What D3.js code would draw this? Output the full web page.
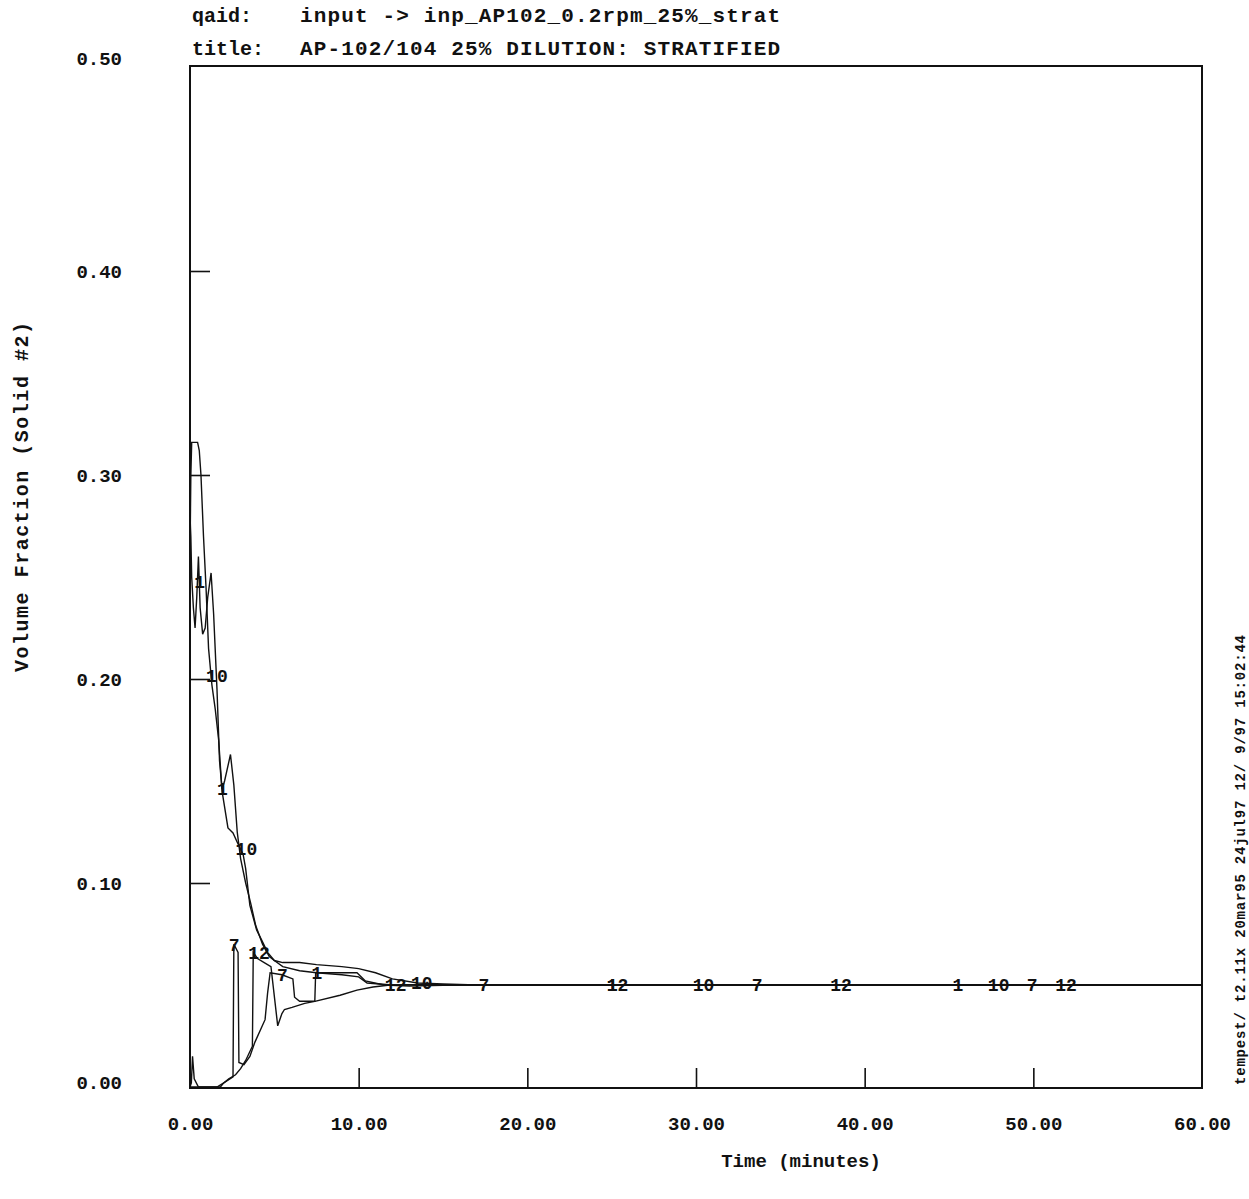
<!DOCTYPE html>
<html>
<head>
<meta charset="utf-8">
<script src="https://cdn.jsdelivr.net/npm/d3@7"></script>
<style>
  body { margin: 0; background: #fff; }
  text { font-family: "Liberation Mono", "DejaVu Sans Mono", monospace; font-weight: bold; fill: #111; }
  .frame { fill: none; stroke: #111; stroke-width: 2; }
  .curve { fill: none; stroke: #111; stroke-width: 1.4; }
  .axis path { display: none; }
  .axis line { stroke: #111; stroke-width: 1.6; }
</style>
</head>
<body>
<div id="chart"></div>
<script>
// --- data (time in minutes, volume fraction) ---
const t1  = [0, 0.05, 0.1, 0.2, 0.3, 0.4, 0.5, 0.6, 0.75, 0.9, 1.05, 1.25, 1.4, 1.6, 1.75, 1.9, 2.05, 2.4, 2.6, 2.8, 3.0, 3.3, 3.6, 3.9, 4.3, 4.7, 5.0, 5.5, 6.5, 7.5, 9.0, 10.0, 10.5, 12, 14, 20, 60];
const v1  = [0.28, 0.27, 0.25, 0.235, 0.225, 0.24, 0.26, 0.235, 0.222, 0.225, 0.24, 0.252, 0.232, 0.195, 0.16, 0.146, 0.15, 0.163, 0.148, 0.125, 0.112, 0.100, 0.090, 0.079, 0.070, 0.064, 0.062, 0.059, 0.057, 0.056, 0.055, 0.054, 0.051, 0.050, 0.0502, 0.05, 0.05];

const t10 = [0, 0.05, 0.1, 0.45, 0.55, 0.65, 0.8, 0.95, 1.1, 1.3, 1.5, 1.7, 1.9, 2.25, 2.55, 2.8, 3.15, 3.3, 3.55, 3.95, 4.25, 4.6, 5.0, 5.5, 6.5, 7.5, 9.0, 10.0, 11.0, 12.0, 13.5, 15, 17, 20, 60];
const v10 = [0.26, 0.30, 0.316, 0.316, 0.312, 0.30, 0.27, 0.245, 0.215, 0.197, 0.185, 0.17, 0.145, 0.127, 0.1245, 0.12, 0.114, 0.107, 0.089, 0.077, 0.072, 0.066, 0.062, 0.061, 0.061, 0.060, 0.059, 0.058, 0.056, 0.053, 0.051, 0.0505, 0.05, 0.05, 0.05];

const t7  = [0, 0.08, 0.15, 0.25, 0.5, 1.6, 2.0, 2.55, 2.6, 2.85, 2.9, 3.2, 3.55, 3.85, 4.45, 4.6, 4.75, 5.45, 6.1, 6.2, 6.5, 7.4, 7.45, 8.5, 9.9, 10.4, 11.5, 13, 15, 17, 20, 60];
const v7  = [0, 0.002, 0.015, 0.004, 0, 0, 0.002, 0.005, 0.070, 0.066, 0.012, 0.011, 0.015, 0.022, 0.033, 0.046, 0.056, 0.055, 0.053, 0.044, 0.042, 0.042, 0.056, 0.056, 0.056, 0.052, 0.050, 0.0495, 0.0498, 0.05, 0.05, 0.05];

const t12 = [0, 1.8, 2.0, 2.3, 2.7, 3.0, 3.3, 3.7, 3.75, 4.0, 4.4, 4.8, 5.2, 5.45, 5.6, 6.05, 6.8, 7.4, 8.9, 9.9, 10.85, 11.85, 13, 15, 20, 60];
const v12 = [0, 0, 0.002, 0.004, 0.006, 0.009, 0.013, 0.020, 0.066, 0.063, 0.061, 0.059, 0.030, 0.036, 0.038, 0.039, 0.041, 0.042, 0.045, 0.0475, 0.049, 0.050, 0.0502, 0.05, 0.05, 0.05];

const seriesNames = ["1", "10", "7", "12"];
const labelTimes = {
  "1":  [0.55, 1.9, 7.5, 25.0, 45.5],
  "10": [1.25, 3.0, 13.4, 30.1, 47.6],
  "7":  [2.6, 5.45, 17.4, 33.6, 49.9],
  "12": [3.75, 11.85, 25.0, 38.25, 51.6]
};

const xTicks = [0, 10, 20, 30, 40, 50, 60];
const yTicks = [0, 0.1, 0.2, 0.3, 0.4, 0.5];

const headerKeys = ["qaid:", "title:"];
const headerVals = ["input -> inp_AP102_0.2rpm_25%_strat", "AP-102/104 25% DILUTION: STRATIFIED"];
const stamp = "tempest/ t2.11x 20mar95 24jul97 12/ 9/97 15:02:44";

// --- layout ---
const width = 1249, height = 1199;
const plot = {left: 190, right: 1202, top: 66, bottom: 1088};

const svg = d3.select("#chart").append("svg")
    .attr("width", width)
    .attr("height", height);

const x = d3.scaleLinear().domain([0, 60]).range([plot.left, plot.right]);
const y = d3.scaleLinear().domain([0, 0.5]).range([plot.bottom - 1, plot.top + 1]);

// frame
svg.append("rect")
    .attr("class", "frame")
    .attr("x", plot.left).attr("y", plot.top)
    .attr("width", plot.right - plot.left)
    .attr("height", plot.bottom - plot.top);

// axes with inward ticks
const xAxis = svg.append("g")
    .attr("class", "axis")
    .attr("transform", `translate(0,${plot.bottom})`)
    .call(d3.axisBottom(x).tickValues(xTicks).tickFormat(d3.format(".2f"))
        .tickSizeInner(-20).tickSizeOuter(0).tickPadding(28));
xAxis.selectAll("text").style("font-size", "19px").attr("dy", "0.35em").attr("y", 35);
xAxis.selectAll(".tick").filter(d => d === 0 || d === 60).select("line").remove();

const yAxis = svg.append("g")
    .attr("class", "axis")
    .attr("transform", `translate(${plot.left},0)`)
    .call(d3.axisLeft(y).tickValues(yTicks).tickFormat(d3.format(".2f"))
        .tickSizeInner(-20).tickSizeOuter(0).tickPadding(68));
yAxis.selectAll("text").style("font-size", "19px");
// end labels sit a little higher in the original
yAxis.selectAll(".tick").filter(d => d === 0.5).select("text").attr("y", -9);
yAxis.selectAll(".tick").filter(d => d === 0).select("text").attr("y", -5);
yAxis.selectAll(".tick").filter(d => d === 0 || d === 0.5).select("line").remove();

// curves
const allSeries = {
  "1":  t1.map((t, i) => [t, v1[i]]),
  "10": t10.map((t, i) => [t, v10[i]]),
  "7":  t7.map((t, i) => [t, v7[i]]),
  "12": t12.map((t, i) => [t, v12[i]])
};

const line = d3.line().x(d => x(d[0])).y(d => y(d[1]));

svg.append("g").selectAll(".curve")
    .data(seriesNames)
    .enter()
    .append("path")
    .attr("class", "curve")
    .attr("d", k => line(allSeries[k]));

// value of a series at time t (for placing its labels on the line)
function valueAt(pts, t) {
  const i = d3.bisector(d => d[0]).left(pts, t);
  if (i <= 0) return pts[0][1];
  if (i >= pts.length) return pts[pts.length - 1][1];
  const a = pts[i - 1], b = pts[i];
  return a[1] + (b[1] - a[1]) * (t - a[0]) / (b[0] - a[0]);
}

const labelData = [];
seriesNames.forEach(k => {
  labelTimes[k].forEach(t => labelData.push({key: k, t: t, v: valueAt(allSeries[k], t)}));
});

svg.append("g").selectAll(".series-label")
    .data(labelData)
    .enter()
    .append("text")
    .attr("class", "series-label")
    .attr("x", d => x(d.t) - 5)
    .attr("y", d => y(d.v))
    .attr("dy", "0.35em")
    .style("font-size", "18px")
    .text(d => d.key);

// header
svg.selectAll(".hdr-key")
    .data(headerKeys)
    .enter()
    .append("text")
    .attr("class", "hdr-key")
    .attr("x", 192)
    .attr("y", (d, i) => 22 + i * 33)
    .style("font-size", "20px")
    .text(d => d);

svg.selectAll(".hdr-val")
    .data(headerVals)
    .enter()
    .append("text")
    .attr("class", "hdr-val")
    .attr("x", 300)
    .attr("y", (d, i) => 22 + i * 33)
    .style("font-size", "21px")
    .attr("textLength", 480)
    .attr("lengthAdjust", "spacing")
    .text(d => d);

// axis titles
svg.append("text")
    .attr("x", 801).attr("y", 1167)
    .attr("text-anchor", "middle")
    .style("font-size", "19px")
    .text("Time (minutes)");

svg.append("text")
    .attr("transform", "translate(28,497) rotate(-90)")
    .attr("text-anchor", "middle")
    .style("font-size", "20px")
    .attr("textLength", 350)
    .attr("lengthAdjust", "spacing")
    .text("Volume Fraction (Solid #2)");

// run stamp on the right edge
svg.append("text")
    .attr("transform", "translate(1245,860) rotate(-90)")
    .attr("text-anchor", "middle")
    .style("font-size", "14px")
    .attr("textLength", 450)
    .attr("lengthAdjust", "spacing")
    .text(stamp);
</script>
</body>
</html>
